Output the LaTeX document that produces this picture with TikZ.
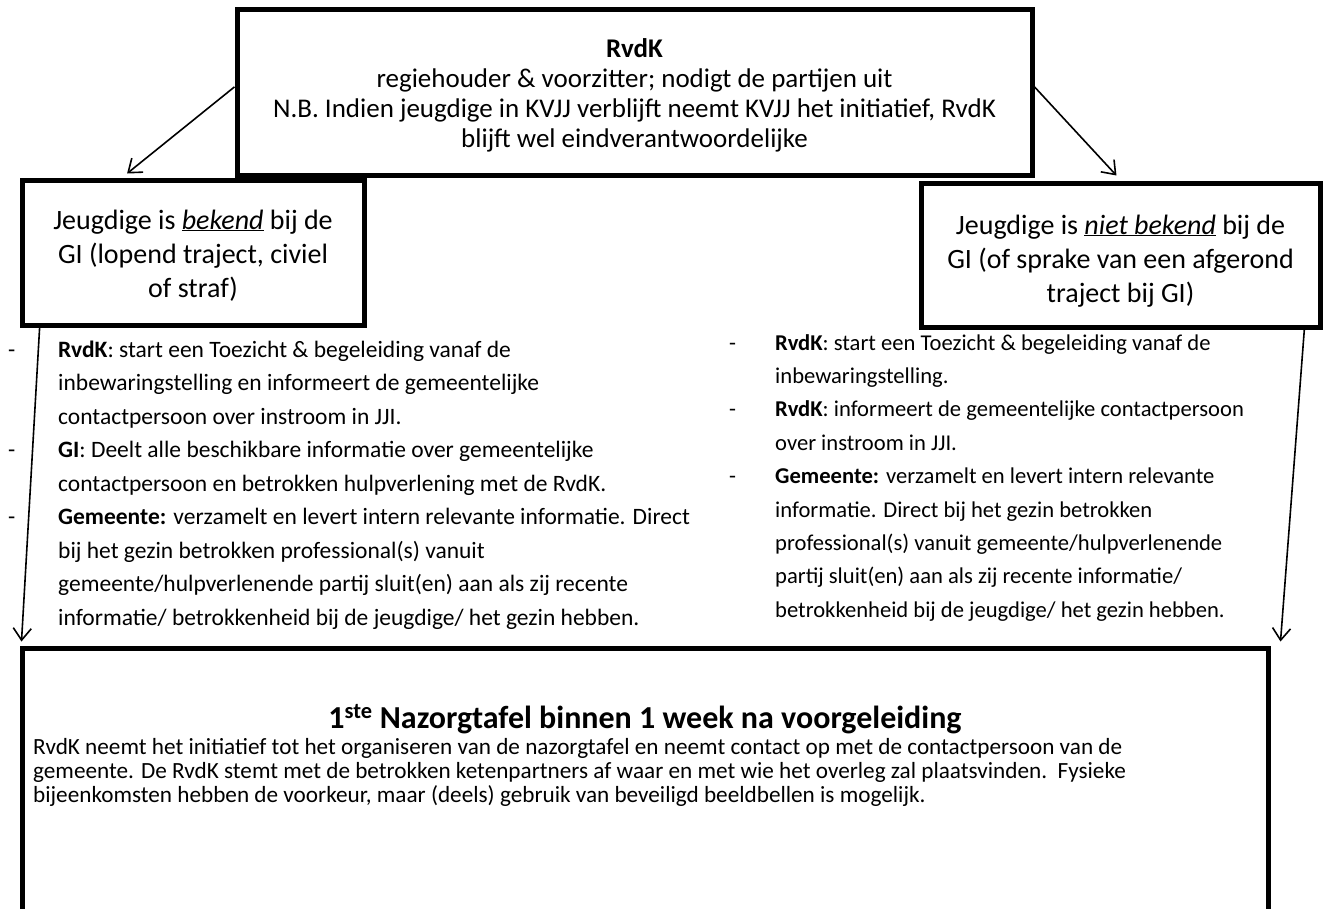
\documentclass[tikz,border=0pt]{standalone}
\usepackage{fontspec}
\setmainfont{Carlito}
\usetikzlibrary{calc,arrows.meta}

\tikzset{
  kader/.style={draw, line width=5pt, inner sep=0pt},
  kadertekst/.style={anchor=base, align=center, inner sep=0pt, font=\fontsize{28}{34}\selectfont},
  pijl/.style={-{Straight Barb[length=12pt,width=18pt]}, line width=1.6pt},
  lijst/.style={anchor=base west, inner sep=0pt},
}

\begin{document}
\begin{tikzpicture}[x=1pt,y=-1pt]
  \useasboundingbox (0,0) rectangle (1324,908);
  % kaders
  \node [kader, minimum width=795pt, minimum height=166pt] (rvdk) at (634.5,92) {};
  \node [kader, minimum width=342pt, minimum height=145pt] (gibekend) at (193,252.5) {};
  \node [kader, minimum width=399pt, minimum height=144pt] (ginietbekend) at (1120.5,255) {};
  \node [kader, minimum width=1246pt, minimum height=282pt] (nazorg) at (645,789) {};
  % teksten in de kaders
  \node [anchor=base, align=center, inner sep=0pt, font=\fontsize{27}{30}\selectfont] (rvdktekst) at (634.5,147)
    {\textbf{RvdK}\\ regiehouder \& voorzitter; nodigt de partijen uit\\
     N.B. Indien jeugdige in KVJJ verblijft neemt KVJJ het initiatief, RvdK\\ blijft wel eindverantwoordelijke};
  \node [kadertekst] (bekendtekst) at (193,297)
    {Jeugdige is \underline{\textit{bekend}} bij de\\ GI (lopend traject, civiel\\ of straf)};
  \node [kadertekst] (nietbekendtekst) at (1120.5,302)
    {Jeugdige is \underline{\textit{niet bekend}} bij de\\ GI (of sprake van een afgerond\\ traject bij GI)};
  \node [anchor=base, inner sep=0pt, font=\fontsize{32}{36}\selectfont\bfseries] (nazorgtitel) at (645,728)
    {1\textsuperscript{ste} Nazorgtafel binnen 1 week na voorgeleiding};
  \node [anchor=base west, align=left, inner sep=0pt, font=\fontsize{23.2}{24}\selectfont] (nazorgtekst) at (33,802)
    {RvdK neemt het initiatief tot het organiseren van de nazorgtafel en neemt contact op met de contactpersoon van de\\
     gemeente. De RvdK stemt met de betrokken ketenpartners af waar en met wie het overleg zal plaatsvinden.\ \ Fysieke\\
     bijeenkomsten hebben de voorkeur, maar (deels) gebruik van beveiligd beeldbellen is mogelijk.};
  % opsommingen
  \node [lijst, font=\fontsize{23.5}{33.5}\selectfont] (lijstbekend) at (8,357) {\begin{tabular}[t]{@{}p{50pt}@{}l@{}}
    - & \textbf{RvdK}: start een Toezicht \& begeleiding vanaf de\\
      & inbewaringstelling en informeert de gemeentelijke\\
      & contactpersoon over instroom in JJI.\\
    - & \textbf{GI}: Deelt alle beschikbare informatie over gemeentelijke\\
      & contactpersoon en betrokken hulpverlening met de RvdK.\\
    - & \textbf{Gemeente:} verzamelt en levert intern relevante informatie. Direct\\
      & bij het gezin betrokken professional(s) vanuit\\
      & gemeente/hulpverlenende partij sluit(en) aan als zij recente\\
      & informatie/ betrokkenheid bij de jeugdige/ het gezin hebben.
  \end{tabular}};
  \node [lijst, font=\fontsize{22.6}{33.4}\selectfont] (lijstnietbekend) at (729,350) {\begin{tabular}[t]{@{}p{46pt}@{}l@{}}
    - & \textbf{RvdK}: start een Toezicht \& begeleiding vanaf de\\
      & inbewaringstelling.\\
    - & \textbf{RvdK}: informeert de gemeentelijke contactpersoon\\
      & over instroom in JJI.\\
    - & \textbf{Gemeente:} verzamelt en levert intern relevante\\
      & informatie. Direct bij het gezin betrokken\\
      & professional(s) vanuit gemeente/hulpverlenende\\
      & partij sluit(en) aan als zij recente informatie/\\
      & betrokkenheid bij de jeugdige/ het gezin hebben.
  \end{tabular}};
  % pijlen
  \draw [pijl] ($(rvdk.north west)!0.47!(rvdk.south west)$) -- ($(gibekend.north west)!0.31!(gibekend.north east)+(0,-4)$);
  \draw [pijl] ($(rvdk.north east)!0.47!(rvdk.south east)$) -- ($(ginietbekend.north west)!0.49!(ginietbekend.north east)+(0,-5)$);
  \draw [pijl] ($(gibekend.south west)!0.058!(gibekend.south east)$) -- ($(nazorg.north west)+(2,-4)$);
  \draw [pijl] ($(ginietbekend.south west)!0.955!(ginietbekend.south east)$) -- ($(nazorg.north east)+(10,-4)$);
\end{tikzpicture}
\end{document}
